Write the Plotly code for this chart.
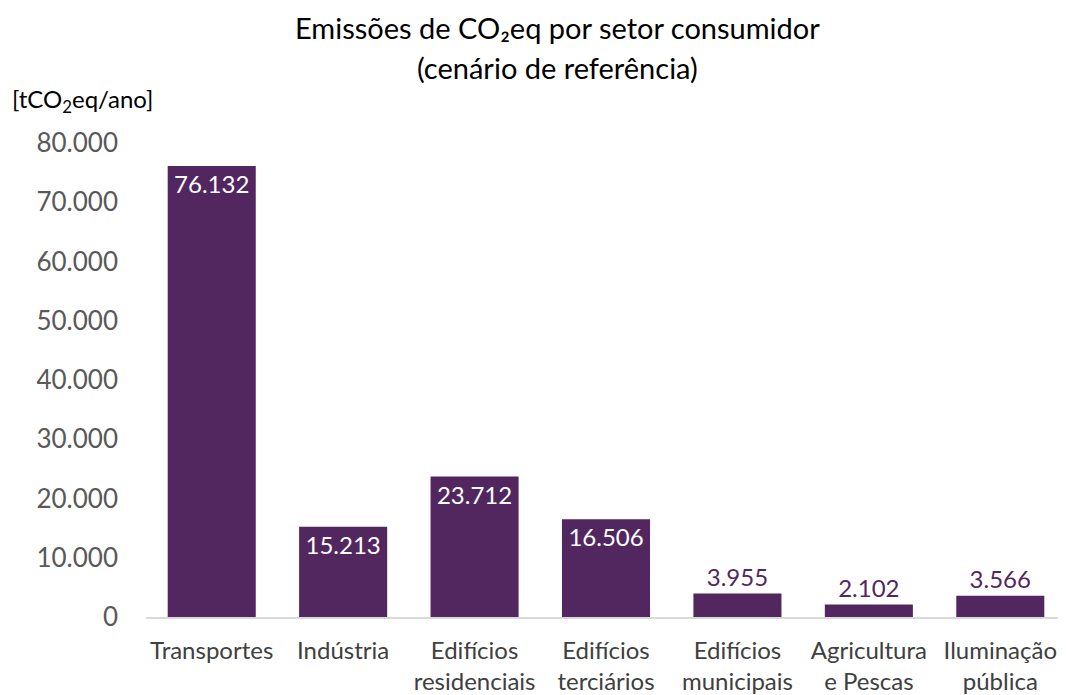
import plotly.graph_objects as go

categories = ["Transportes", "Indústria", "Edifícios<br>residenciais", "Edifícios<br>terciários",
              "Edifícios<br>municipais", "Agricultura<br>e Pescas", "Iluminação<br>pública"]
values = [76132, 15213, 23712, 16506, 3955, 2102, 3566]
labels = ["76.132", "15.213", "23.712", "16.506", "3.955", "2.102", "3.566"]
tick_vals = [0, 10000, 20000, 30000, 40000, 50000, 60000, 70000, 80000]
tick_text = ["0", "10.000", "20.000", "30.000", "40.000", "50.000", "60.000", "70.000", "80.000"]

purple = "#52275F"
positions = ["inside" if v > 10000 else "outside" for v in values]
text_colors = ["white" if v > 10000 else purple for v in values]

FONT = "Lato, Carlito, 'Open Sans', sans-serif"

# the page body has an 8px margin; figure is sized so it fits the 1066x695 window
W, H = 1058, 687
L, T, B = 138, 135, 78
PW = W - L

fig = go.Figure(go.Bar(
    x=categories, y=values, text=labels, textposition=positions,
    insidetextanchor="end", constraintext="none", cliponaxis=False,
    textfont=dict(family=FONT, size=24, color=text_colors),
    marker=dict(color=purple, line=dict(width=0)),
))

fig.update_layout(
    width=W, height=H,
    margin=dict(l=L, r=0, t=T, b=B, autoexpand=False),
    paper_bgcolor="white", plot_bgcolor="white",
    bargap=0.33,
    showlegend=False,
    font=dict(family=FONT),
    xaxis=dict(range=[-0.5, 6.5], showgrid=False, showline=True, linecolor="#D9D9D9", linewidth=1.5,
               ticks="", ticklabelstandoff=11, automargin=False,
               tickfont=dict(family=FONT, size=24, color="#404040"), fixedrange=True),
    yaxis=dict(range=[0, 80000], tickvals=tick_vals, ticktext=tick_text, showgrid=False,
               showline=False, zeroline=False, ticks="", ticklabelstandoff=27, automargin=False,
               tickfont=dict(family=FONT, size=26, color="#595959")),
    annotations=[
        dict(text="Emissões de CO₂eq por setor consumidor", xref="paper", yref="paper",
             x=(549 - L) / PW, y=1.0, xanchor="center", yanchor="middle", yshift=T - 19,
             showarrow=False, font=dict(family=FONT, size=29, color="black")),
        dict(text="(cenário de referência)", xref="paper", yref="paper",
             x=(549 - L) / PW, y=1.0, xanchor="center", yanchor="middle", yshift=T - 59,
             showarrow=False, font=dict(family=FONT, size=29, color="black")),
        dict(text="[tCO<sub>2</sub>eq/ano]", xref="paper", yref="paper", x=(2 - L) / PW, y=1.0,
             xanchor="left", yanchor="middle", yshift=T - 92, showarrow=False,
             font=dict(family=FONT, size=24, color="black")),
    ],
)

fig.write_html("out.html")
